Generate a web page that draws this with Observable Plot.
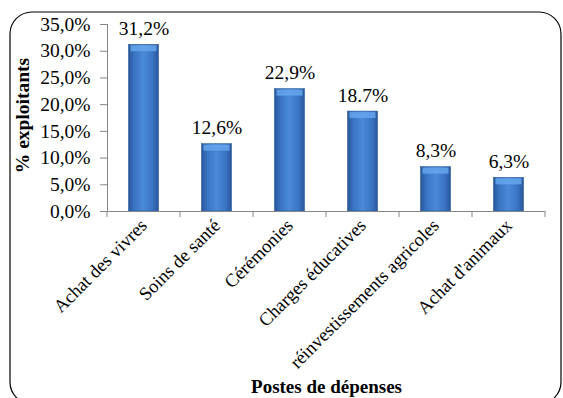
<!DOCTYPE html>
<html>
<head>
<meta charset="utf-8">
<script src="https://cdn.jsdelivr.net/npm/d3@7"></script>
<script src="https://cdn.jsdelivr.net/npm/@observablehq/plot@0.6"></script>
<style>
  html, body { margin: 0; padding: 0; background: #fff; overflow: hidden; }
  svg { display: block; }
  #chart svg, #chart svg text { font-family: "Liberation Serif", "Times New Roman", serif !important; }
</style>
</head>
<body>
<div id="chart"></div>
<script>
const categories = ["Achat des vivres", "Soins de santé", "Cérémonies", "Charges éducatives", "réinvestissements agricoles", "Achat d'animaux"];
const values = [0.312, 0.126, 0.229, 0.187, 0.083, 0.063];
const valueLabels = ["31,2%", "12,6%", "22,9%", "18.7%", "8,3%", "6,3%"];
const yTicks = [0, 0.05, 0.10, 0.15, 0.20, 0.25, 0.30, 0.35];

const data = categories.map((c, i) => ({cat: c, v: values[i], lab: valueLabels[i]}));
const font = "Liberation Serif";

const chart = Plot.plot({
  width: 563,
  height: 398,
  marginLeft: 107,
  marginRight: 18,
  marginTop: 24,
  marginBottom: 187,
  style: {fontFamily: font, fontSize: "19px", color: "#000", background: "transparent", maxWidth: "none"},
  x: {domain: categories, padding: 0, label: null},
  y: {domain: [0, 0.35], label: null},
  marks: [
    Plot.frame({anchor: "left", stroke: "#868686"}),
    Plot.barY(data, {x: "cat", y: "v", fill: "url(#barGrad)", stroke: "#2b5c9a", strokeWidth: 0.6, insetLeft: 21.5, insetRight: 21.5}),
    Plot.tickY(data, {x: "cat", y: "v", stroke: "#66a6ec", strokeWidth: 6, dy: 3.5, insetLeft: 23.5, insetRight: 23.5, strokeOpacity: 0.85}),
    Plot.text(data, {x: "cat", y: "v", text: "lab", dy: -16, fontSize: 19.5, fill: "#000", fontFamily: font}),
    Plot.axisY({ticks: yTicks, tickFormat: d => (d * 100).toFixed(1).replace(".", ",") + "%", tickSize: 7, tickPadding: 10, fontSize: 19.5, fontFamily: font, stroke: "#868686", label: null}),
    Plot.axisX({tickSize: 0, tickRotate: -45, tickPadding: 11, fontSize: 18.5, fontFamily: font, label: null}),
    Plot.ruleY([0], {stroke: "#868686"}),
    Plot.text(["% exploitants"], {frameAnchor: "left", textAnchor: "middle", dx: -85, dy: -2.5, rotate: -90, fontSize: 19.5, fontWeight: "bold", fill: "#000", fontFamily: font}),
    Plot.text(["Postes de dépenses"], {frameAnchor: "bottom", dx: 0, dy: 181, fontSize: 19, fontWeight: "bold", fill: "#000", fontFamily: font})
  ]
});

const svg = d3.select(chart);
const defs = svg.insert("defs", ":first-child");
const g = defs.append("linearGradient").attr("id", "barGrad").attr("x1", "0").attr("x2", "1").attr("y1", "0").attr("y2", "0");
[["0", "#29569a"], ["0.2", "#3a74c4"], ["0.5", "#4a8ad9"], ["0.8", "#3a74c4"], ["1", "#29569a"]].forEach(([o, c]) => g.append("stop").attr("offset", o).attr("stop-color", c));

// category boundary ticks on the x axis
const xs = chart.scale("x");
const step = xs.step;
const axisG = svg.append("g").attr("stroke", "#868686");
const y0 = chart.scale("y").apply(0);
const left = xs.apply(categories[0]);
for (let i = 0; i <= categories.length; i++) {
  const x = left + i * step;
  axisG.append("line").attr("x1", x).attr("x2", x).attr("y1", y0).attr("y2", y0 + 6);
}

// rounded border
svg.append("rect").attr("x", 10).attr("y", 12).attr("width", 551).attr("height", 392).attr("rx", 22)
  .attr("fill", "none").attr("stroke", "#000").attr("stroke-width", 1.2);

document.getElementById("chart").appendChild(chart);
</script>
</body>
</html>
